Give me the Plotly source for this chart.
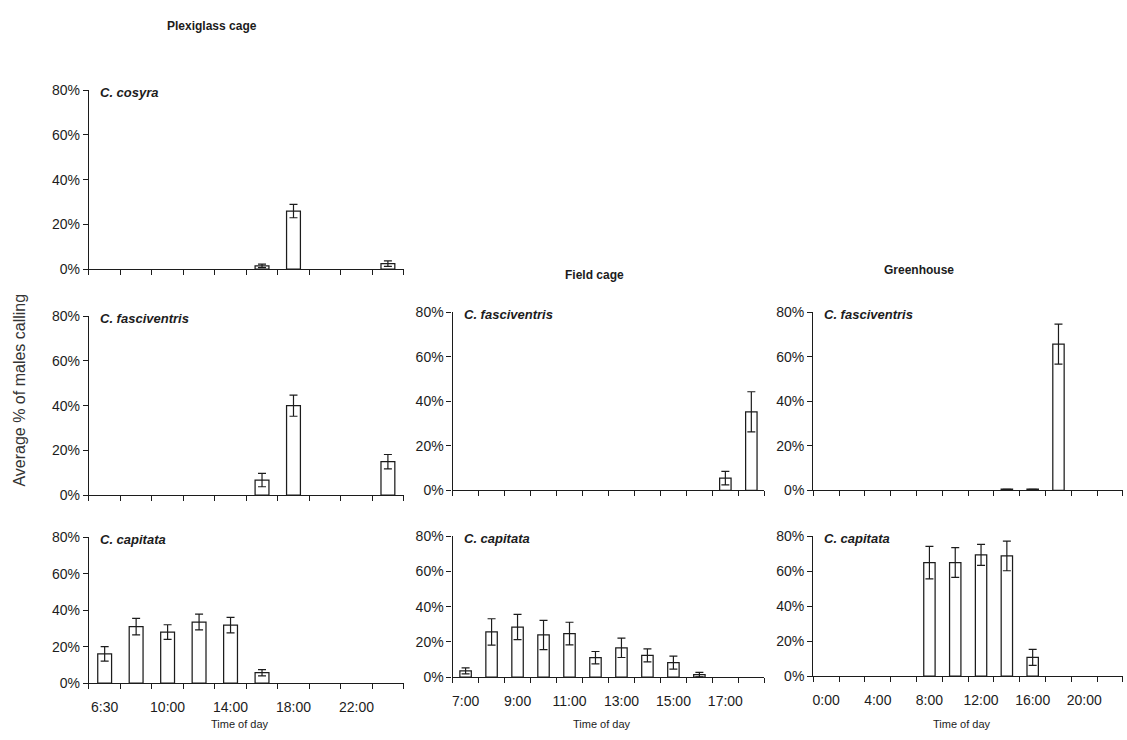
import plotly.graph_objects as go

# ---- time-of-day categories for each setting ----
plexi_times = ["6:30", "8:00", "10:00", "12:00", "14:00", "16:00",
               "18:00", "20:00", "22:00", "0:00"]
field_times = ["7:00", "8:00", "9:00", "10:00", "11:00", "12:00",
               "13:00", "14:00", "15:00", "16:00", "17:00", "18:00"]
green_times = ["0:00", "2:00", "4:00", "6:00", "8:00", "10:00",
               "12:00", "14:00", "16:00", "18:00", "20:00", "22:00"]

# ---- average % of males calling (mean, error) ----
plexi_cosyra = [0, 0, 0, 0, 0, 1.5, 26, 0, 0, 2.5]
plexi_cosyra_err = [0, 0, 0, 0, 0, 0.8, 3, 0, 0, 1.2]

plexi_fasc = [0, 0, 0, 0, 0, 6.8, 40, 0, 0, 15]
plexi_fasc_err = [0, 0, 0, 0, 0, 3, 4.7, 0, 0, 3.2]

plexi_cap = [16, 31, 28, 33.5, 31.8, 5.7, 0, 0, 0, 0]
plexi_cap_err = [4, 4.5, 4, 4.3, 4.3, 1.7, 0, 0, 0, 0]

field_fasc = [0, 0, 0, 0, 0, 0, 0, 0, 0, 0, 5.5, 35.3]
field_fasc_err = [0, 0, 0, 0, 0, 0, 0, 0, 0, 0, 3, 9]

field_cap = [3.6, 25.7, 28.5, 24, 24.8, 11.1, 16.7, 12.4, 8.3, 1.5, 0, 0]
field_cap_err = [1.7, 7.5, 7.2, 8.3, 6.4, 3.5, 5.5, 3.7, 3.7, 1.3, 0, 0]

green_fasc = [0, 0, 0, 0, 0, 0, 0, 0.5, 0.5, 65.7, 0, 0]
green_fasc_err = [0, 0, 0, 0, 0, 0, 0, 0, 0, 9, 0, 0]

green_cap = [0, 0, 0, 0, 65, 65, 69.4, 68.8, 10.8, 0, 0, 0]
green_cap_err = [0, 0, 0, 0, 9.3, 8.5, 6, 8.5, 4.6, 0, 0, 0]

y_ticks = [0, 20, 40, 60, 80]
y_ticktext = [f"{v}%" for v in y_ticks]

W, H = 1127, 740
INK = "#1c1c1c"
TICK_FONT = "Liberation Sans Narrow, Arial Narrow, Liberation Sans, Arial, sans-serif"
BOLD_FONT = "Liberation Sans, Arial, sans-serif"


def px_x(x):
    return x / W


def px_y(y):
    return 1 - y / H


# (species, categories, values, errors, x-pixel span, y-pixel span, show tick text)
panels = [
    ("C. cosyra", plexi_times, plexi_cosyra, plexi_cosyra_err, (88, 403), (84, 267), False),
    ("C. fasciventris", plexi_times, plexi_fasc, plexi_fasc_err, (88, 403), (315, 498), False),
    ("C. capitata", plexi_times, plexi_cap, plexi_cap_err, (88, 403), (541, 690), True),
    ("C. fasciventris", field_times, field_fasc, field_fasc_err, (452, 764), (311, 493), False),
    ("C. capitata", field_times, field_cap, field_cap_err, (452, 764), (540, 684), True),
    ("C. fasciventris", green_times, green_fasc, green_fasc_err, (813, 1123), (311, 493), False),
    ("C. capitata", green_times, green_cap, green_cap_err, (813, 1123), (540, 683), True),
]

fig = go.Figure()
layout = {}
annotations = []

for i, (species, cats, vals, errs, (x0, x1), (ytop, ybot), show_text) in enumerate(panels):
    n = i + 1
    xa = "x" if n == 1 else f"x{n}"
    ya = "y" if n == 1 else f"y{n}"
    # hours with no calling get no outline and no whisker
    bar_vals = [v if v > 0 else None for v in vals]
    err_arr = [e if e > 0 else None for e in errs]
    fig.add_trace(go.Bar(
        x=cats, y=bar_vals, xaxis=xa, yaxis=ya,
        marker=dict(color="white", line=dict(color=INK, width=1.25)),
        error_y=dict(type="data", array=err_arr, visible=True,
                     color=INK, thickness=1.2, width=4),
        showlegend=False,
    ))
    ticktext = [c if (k % 2 == 0 and show_text) else "" for k, c in enumerate(cats)]
    layout["xaxis" if n == 1 else f"xaxis{n}"] = dict(
        domain=[px_x(x0), px_x(x1)], anchor=ya,
        type="category", categoryorder="array", categoryarray=cats,
        range=[-0.5, len(cats) - 0.5],
        tickmode="array", tickvals=cats, ticktext=ticktext, tickangle=0,
        tickson="boundaries", ticks="outside", ticklen=5, tickwidth=1.1,
        tickcolor=INK, showline=True, linecolor=INK, linewidth=1.3,
        showgrid=False, zeroline=False, fixedrange=True,
        tickfont=dict(family=TICK_FONT, size=14, color=INK),
        ticklabelstandoff=11,
    )
    layout["yaxis" if n == 1 else f"yaxis{n}"] = dict(
        domain=[px_y(ybot), px_y(ytop)], anchor=xa,
        range=[0, 80], tickmode="array", tickvals=y_ticks, ticktext=y_ticktext,
        ticks="outside", ticklen=5, tickwidth=1.1,
        tickcolor=INK, showline=True, linecolor=INK, linewidth=1.3,
        showgrid=False, zeroline=False, fixedrange=True,
        tickfont=dict(family=TICK_FONT, size=14, color=INK),
    )
    annotations.append(dict(
        text=f"<b><i>{species}</i></b>", x=px_x(x0 + 9), y=px_y(ytop + 2),
        xref="paper", yref="paper", xanchor="left", yanchor="middle",
        showarrow=False, font=dict(family=BOLD_FONT, size=13, color=INK),
    ))
    if show_text:
        annotations.append(dict(
            text="Time of day", x=px_x((x0 + x1) / 2 - 6), y=px_y(732),
            xref="paper", yref="paper", xanchor="center", yanchor="middle",
            showarrow=False, font=dict(family=TICK_FONT, size=11, color=INK),
        ))

# column headings
for title, cx, cy in [("Plexiglass cage", 211, 18), ("Field cage", 594, 273),
                      ("Greenhouse", 919, 268)]:
    annotations.append(dict(
        text=f"<b>{title}</b>", x=px_x(cx), y=px_y(cy),
        xref="paper", yref="paper", xanchor="center", yanchor="middle",
        showarrow=False, font=dict(family=TICK_FONT, size=12, color=INK),
    ))

# shared y-axis title
annotations.append(dict(
    text="Average % of males calling", x=px_x(19), y=px_y(390),
    xref="paper", yref="paper", xanchor="center", yanchor="middle",
    textangle=-90, showarrow=False,
    font=dict(family="Liberation Sans, Arial, sans-serif", size=16, color="#333333"),
))

fig.update_layout(
    width=W, height=H, autosize=False,
    margin=dict(l=0, r=0, t=0, b=0),
    paper_bgcolor="white", plot_bgcolor="white",
    bargap=0.56, annotations=annotations, **layout,
)

fig.write_html("out.html")
